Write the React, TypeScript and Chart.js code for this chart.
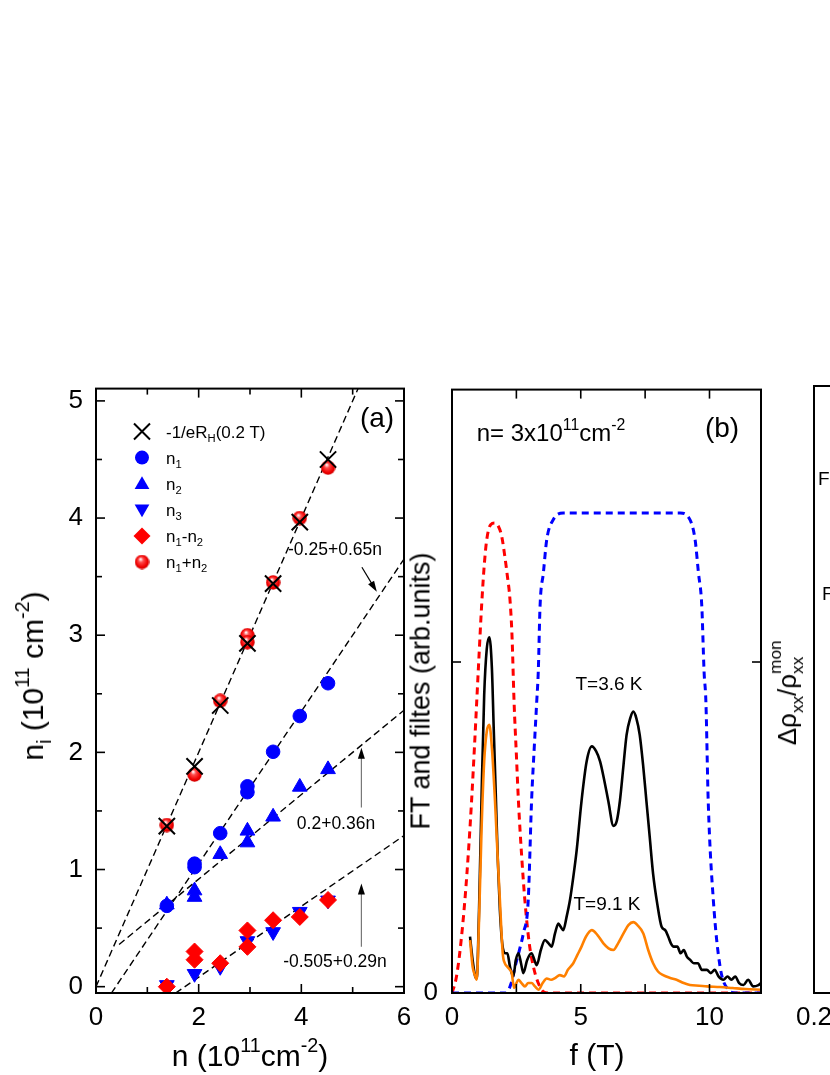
import React, { useEffect, useRef } from 'react';
import { Chart, registerables } from 'chart.js';
Chart.register(...registerables);

const FONT = '"Liberation Sans", Arial, Helvetica, sans-serif';

// ---------- Panel (a) data ----------
const aXTicks = [0, 2, 4, 6];
const aXMinor = [1, 3, 5];
const aYTicks = [0, 1, 2, 3, 4, 5];
const aYMinor = [0.5, 1.5, 2.5, 3.5, 4.5];

const hallX = [1.38, 1.92, 2.42, 2.95, 3.45, 3.97, 4.52];
const hallY = [1.37, 1.88, 2.40, 2.93, 3.44, 3.965, 4.50];
const sumX = [1.38, 1.92, 2.42, 2.95, 2.95, 3.45, 3.97, 4.52];
const sumY = [1.38, 1.81, 2.44, 3.00, 2.94, 3.45, 4.00, 4.43];
const n1X = [1.38, 1.92, 1.92, 2.42, 2.95, 2.95, 3.45, 3.97, 4.52];
const n1Y = [0.69, 1.05, 1.02, 1.31, 1.71, 1.66, 2.005, 2.31, 2.59];
const n2X = [1.38, 1.92, 1.92, 2.42, 2.95, 2.95, 3.45, 3.97, 4.52];
const n2Y = [0.70, 0.82, 0.765, 1.13, 1.33, 1.23, 1.45, 1.705, 1.855];
const n3X = [1.38, 1.92, 2.42, 2.95, 3.45, 3.97, 4.52];
const n3Y = [0.015, 0.11, 0.17, 0.39, 0.467, 0.64, 0.737];
const diffX = [1.38, 1.92, 1.92, 2.42, 2.95, 2.95, 3.45, 3.97, 4.52];
const diffY = [0.0, 0.30, 0.23, 0.20, 0.48, 0.34, 0.567, 0.595, 0.74];

const fit1X = [0, 5.2];
const fit1Y = [0, 5.2];
const fit2X = [0.3, 6];
const fit2Y = [-0.055, 3.65];
const fit3X = [0.45, 6];
const fit3Y = [0.36, 2.36];
const fit4X = [1.55, 6];
const fit4Y = [-0.055, 1.29];

type Seg = [string, string];
const legendLabels: Seg[][] = [
  [['-1/eR', ''], ['H', 'sub'], ['(0.2 T)', '']],
  [['n', ''], ['1', 'sub']],
  [['n', ''], ['2', 'sub']],
  [['n', ''], ['3', 'sub']],
  [['n', ''], ['1', 'sub'], ['-n', ''], ['2', 'sub']],
  [['n', ''], ['1', 'sub'], ['+n', ''], ['2', 'sub']],
];
const fitLabels = ['-0.25+0.65n', '0.2+0.36n', '-0.505+0.29n'];
// arrows in data units: [x0, y0, x1, y1]
const arrowsA = [
  [5.18, 3.58, 5.47, 3.37],
  [5.17, 1.53, 5.17, 2.04],
  [5.17, 0.34, 5.17, 0.88],
];

// ---------- Panel (b) data ----------
const bXTicks = [0, 5, 10];
const bXMinor = [2.5, 5, 7.5, 10];
const bYTicks = [0];
const bYMarks = [1];

const blackF = [0.70, 0.80, 0.90, 0.96, 1.05, 1.15, 1.25, 1.35, 1.45, 1.55, 1.62, 1.70, 1.78, 1.86, 1.95, 2.06, 2.15, 2.25, 2.38, 2.48, 2.58, 2.68, 2.77, 2.92, 3.09, 3.20, 3.29, 3.45, 3.61, 3.75, 3.87, 4.00, 4.13, 4.22, 4.32, 4.45, 4.58, 4.71, 4.84, 5.03, 5.23, 5.43, 5.60, 5.75, 5.92, 6.07, 6.27, 6.40, 6.52, 6.65, 6.78, 6.92, 7.04, 7.16, 7.29, 7.42, 7.55, 7.68, 7.81, 7.97, 8.14, 8.28, 8.40, 8.50, 8.61, 8.75, 8.88, 9.00, 9.12, 9.25, 9.39, 9.55, 9.70, 9.90, 10.05, 10.20, 10.35, 10.54, 10.70, 10.85, 11.00, 11.15, 11.32, 11.50, 11.70, 11.90, 12.0];
const blackV = [0.17, 0.10, 0.05, 0.044, 0.25, 0.60, 0.90, 1.04, 1.075, 0.98, 0.80, 0.60, 0.40, 0.25, 0.15, 0.12, 0.12, 0.08, 0.05, 0.10, 0.12, 0.09, 0.06, 0.10, 0.12, 0.10, 0.084, 0.13, 0.16, 0.15, 0.14, 0.18, 0.21, 0.20, 0.19, 0.23, 0.28, 0.35, 0.43, 0.58, 0.70, 0.745, 0.73, 0.70, 0.64, 0.58, 0.505, 0.52, 0.58, 0.68, 0.78, 0.83, 0.85, 0.83, 0.78, 0.69, 0.58, 0.47, 0.36, 0.27, 0.20, 0.19, 0.17, 0.15, 0.14, 0.14, 0.12, 0.13, 0.11, 0.10, 0.09, 0.09, 0.07, 0.07, 0.06, 0.07, 0.05, 0.04, 0.05, 0.04, 0.05, 0.03, 0.024, 0.04, 0.02, 0.024, 0.03];

const orangeF = [0.70, 0.80, 0.89, 0.96, 1.05, 1.15, 1.25, 1.35, 1.45, 1.55, 1.67, 1.78, 1.86, 1.97, 2.05, 2.14, 2.25, 2.32, 2.41, 2.50, 2.58, 2.70, 2.83, 2.96, 3.09, 3.22, 3.36, 3.52, 3.68, 3.85, 4.00, 4.19, 4.35, 4.50, 4.71, 4.87, 5.03, 5.20, 5.43, 5.65, 5.88, 6.08, 6.27, 6.45, 6.66, 6.85, 7.04, 7.20, 7.43, 7.62, 7.81, 8.00, 8.20, 8.45, 8.72, 9.00, 9.24, 9.60, 9.90, 10.40, 10.90, 11.40, 12.0];
const orangeV = [0.16, 0.08, 0.054, 0.04, 0.22, 0.50, 0.70, 0.79, 0.81, 0.74, 0.58, 0.40, 0.28, 0.12, 0.09, 0.08, 0.07, 0.06, 0.015, 0.03, 0.04, 0.03, 0.02, 0.03, 0.03, 0.02, 0.01, 0.03, 0.044, 0.04, 0.045, 0.054, 0.05, 0.07, 0.09, 0.115, 0.14, 0.17, 0.19, 0.175, 0.15, 0.135, 0.13, 0.15, 0.18, 0.205, 0.214, 0.205, 0.18, 0.13, 0.09, 0.065, 0.054, 0.046, 0.04, 0.03, 0.024, 0.022, 0.02, 0.018, 0.015, 0.012, 0.01];

const redF = [0, 0.15, 0.30, 0.50, 0.65, 0.76, 0.87, 0.96, 1.05, 1.15, 1.25, 1.35, 1.50, 1.67, 1.80, 1.93, 2.05, 2.15, 2.25, 2.33, 2.41, 2.50, 2.58, 2.70, 2.83, 3.00, 3.16, 3.35, 3.55, 3.80, 12.0];
const redV = [0, 0.04, 0.12, 0.28, 0.44, 0.58, 0.74, 0.88, 1.02, 1.17, 1.29, 1.37, 1.415, 1.42, 1.41, 1.38, 1.32, 1.26, 1.19, 1.08, 0.88, 0.72, 0.58, 0.42, 0.28, 0.15, 0.08, 0.03, 0.004, 0, 0];

const blueF = [0, 2.10, 2.30, 2.45, 2.62, 2.77, 2.96, 3.09, 3.20, 3.29, 3.35, 3.42, 3.55, 3.68, 3.93, 4.32, 8.86, 9.24, 9.44, 9.57, 9.70, 9.79, 9.86, 9.95, 10.15, 10.41, 10.73, 11.0, 12.0];
const blueV = [0, 0, 0.03, 0.08, 0.13, 0.18, 0.28, 0.58, 0.75, 0.88, 0.97, 1.17, 1.27, 1.37, 1.43, 1.45, 1.45, 1.43, 1.37, 1.27, 1.17, 0.97, 0.88, 0.58, 0.28, 0.08, 0.01, 0, 0];

const bTexts = ['T=3.6 K', 'T=9.1 K'];

// ---------- Panel (c) ----------
const cXTicks = [0.2];

const pts = (xs: number[], ys: number[]) => xs.map((x, i) => ({ x, y: ys[i] }));

function makeSphere(d: number) {
  const c = document.createElement('canvas');
  c.width = d;
  c.height = d;
  const g = c.getContext('2d')!;
  const r = d / 2;
  const grad = g.createRadialGradient(r * 0.8, r * 0.6, r * 0.05, r, r, r);
  grad.addColorStop(0, '#ffffff');
  grad.addColorStop(0.3, '#ff4a4a');
  grad.addColorStop(0.75, '#f00000');
  grad.addColorStop(1, '#c80000');
  g.fillStyle = grad;
  g.beginPath();
  g.arc(r, r, r - 0.3, 0, Math.PI * 2);
  g.fill();
  return c;
}

type FrameCfg = {
  xMajor: number[]; xMinor: number[]; yMajor: number[]; yMinor: number[];
  major: number; minor: number; extra?: (chart: any) => void;
};

function makeFrame(cfg: FrameCfg) {
  return {
    id: 'frame',
    afterDatasetsDraw(chart: any) {
      const { ctx, chartArea: a, scales } = chart;
      ctx.save();
      ctx.strokeStyle = '#000';
      ctx.lineWidth = 1.6;
      const seg = (x0: number, y0: number, x1: number, y1: number) => {
        ctx.beginPath(); ctx.moveTo(x0, y0); ctx.lineTo(x1, y1); ctx.stroke();
      };
      const xt = (vals: number[], len: number) => vals.forEach(v => {
        const p = scales.x.getPixelForValue(v);
        seg(p, a.bottom, p, a.bottom - len);
        seg(p, a.top, p, a.top + len);
      });
      const yt = (vals: number[], len: number) => vals.forEach(v => {
        const p = scales.y.getPixelForValue(v);
        seg(a.left, p, a.left + len, p);
        seg(a.right, p, a.right - len, p);
      });
      xt(cfg.xMajor, cfg.major); xt(cfg.xMinor, cfg.minor);
      yt(cfg.yMajor, cfg.major); yt(cfg.yMinor, cfg.minor);
      ctx.lineWidth = 2;
      ctx.strokeRect(a.left, a.top, a.right - a.left, a.bottom - a.top);
      ctx.restore();
      if (cfg.extra) cfg.extra(chart);
    },
  };
}

function tickFont() {
  return { family: FONT, size: 26 };
}

function buildA(sphere: HTMLCanvasElement) {
  const dash = (xs: number[], ys: number[]) => ({
    type: 'scatter' as const, data: pts(xs, ys), showLine: true, borderColor: '#000',
    borderWidth: 1.4, borderDash: [7, 4], pointRadius: 0, fill: false,
  });
  const extra = (chart: any) => {
    const { ctx, chartArea: a, scales } = chart;
    ctx.save();
    // legend markers
    const lx = 142;
    const ly = [71.5, 97.6, 123.7, 149.8, 175.9, 202];
    ctx.strokeStyle = '#000'; ctx.lineWidth = 2;
    ctx.beginPath();
    ctx.moveTo(lx - 8, ly[0] - 8); ctx.lineTo(lx + 8, ly[0] + 8);
    ctx.moveTo(lx + 8, ly[0] - 8); ctx.lineTo(lx - 8, ly[0] + 8);
    ctx.stroke();
    ctx.fillStyle = '#0000ff';
    ctx.beginPath(); ctx.arc(lx, ly[1], 7, 0, Math.PI * 2); ctx.fill();
    const tri = (y: number, up: boolean) => {
      const r = 8.5, s = up ? 1 : -1;
      ctx.beginPath();
      ctx.moveTo(lx, y - s * r);
      ctx.lineTo(lx + r * 0.866, y + s * r * 0.5);
      ctx.lineTo(lx - r * 0.866, y + s * r * 0.5);
      ctx.closePath(); ctx.fill();
    };
    tri(ly[2] + 1, true);
    tri(ly[3] - 1, false);
    ctx.fillStyle = '#ff0000';
    ctx.beginPath();
    ctx.moveTo(lx, ly[4] - 8.5); ctx.lineTo(lx + 8.5, ly[4]); ctx.lineTo(lx, ly[4] + 8.5); ctx.lineTo(lx - 8.5, ly[4]);
    ctx.closePath(); ctx.fill();
    ctx.drawImage(sphere, lx - sphere.width / 2, ly[5] - sphere.height / 2);
    // arrows
    arrowsA.forEach((ar, i) => {
      const x0 = scales.x.getPixelForValue(ar[0]), y0 = scales.y.getPixelForValue(ar[1]);
      const x1 = scales.x.getPixelForValue(ar[2]), y1 = scales.y.getPixelForValue(ar[3]);
      const ang = Math.atan2(y1 - y0, x1 - x0);
      const hl = 11, hw = 3.5;
      ctx.strokeStyle = i === 0 ? '#000' : '#777';
      ctx.lineWidth = 1.2;
      ctx.beginPath(); ctx.moveTo(x0, y0);
      ctx.lineTo(x1 - Math.cos(ang) * hl * 0.8, y1 - Math.sin(ang) * hl * 0.8); ctx.stroke();
      ctx.fillStyle = '#000';
      ctx.beginPath();
      ctx.moveTo(x1, y1);
      ctx.lineTo(x1 - Math.cos(ang) * hl - Math.sin(ang) * hw, y1 - Math.sin(ang) * hl + Math.cos(ang) * hw);
      ctx.lineTo(x1 - Math.cos(ang) * hl + Math.sin(ang) * hw, y1 - Math.sin(ang) * hl - Math.cos(ang) * hw);
      ctx.closePath(); ctx.fill();
    });
    ctx.restore();
    void a;
  };
  return {
    type: 'scatter',
    data: {
      datasets: [
        { data: pts(hallX, hallY), pointStyle: 'crossRot', pointRadius: 11.5, borderColor: '#000', borderWidth: 2, backgroundColor: '#000' },
        { data: pts(sumX, sumY), pointStyle: sphere, pointRadius: 7.5 },
        { data: pts(n1X, n1Y), pointStyle: 'circle', pointRadius: 6.8, backgroundColor: '#0000ff', borderColor: '#0000ff', borderWidth: 1 },
        { data: pts(diffX, diffY), pointStyle: 'rectRot', pointRadius: 8.5, backgroundColor: '#ff0000', borderColor: '#ff0000', borderWidth: 1 },
        { data: pts(n2X, n2Y), pointStyle: 'triangle', pointRadius: 8.5, backgroundColor: '#0000ff', borderColor: '#0000ff', borderWidth: 1 },
        { data: pts(n3X, n3Y), pointStyle: 'triangle', rotation: 180, pointRadius: 8.5, backgroundColor: '#0000ff', borderColor: '#0000ff', borderWidth: 1 },
        dash(fit1X, fit1Y), dash(fit2X, fit2Y), dash(fit3X, fit3Y), dash(fit4X, fit4Y),
      ],
    },
    options: {
      responsive: false, animation: false, devicePixelRatio: 1,
      layout: { padding: { left: 0, top: 26, right: 36, bottom: 0 } },
      plugins: { legend: { display: false }, tooltip: { enabled: false } },
      scales: {
        x: {
          type: 'linear', min: 0, max: 6,
          afterBuildTicks: (s: any) => { s.ticks = aXTicks.map(v => ({ value: v })); },
          afterFit: (s: any) => { s.height = 82; },
          ticks: { font: tickFont(), color: '#000', padding: 9, maxRotation: 0 },
          grid: { display: false, drawTicks: false }, border: { display: false },
        },
        y: {
          type: 'linear', min: -0.054, max: 5.105,
          afterBuildTicks: (s: any) => { s.ticks = aYTicks.map(v => ({ value: v })); },
          afterFit: (s: any) => { s.width = 96; },
          ticks: { font: tickFont(), color: '#000', padding: 13 },
          grid: { display: false, drawTicks: false }, border: { display: false },
        },
      },
    },
    plugins: [makeFrame({ xMajor: aXTicks, xMinor: aXMinor, yMajor: aYTicks, yMinor: aYMinor, major: 9, minor: 6, extra })],
  };
}

function buildB() {
  const line = (xs: number[], ys: number[], color: string, dashed: boolean) => ({
    type: 'line' as const, data: pts(xs, ys), showLine: true, borderColor: color,
    borderWidth: dashed ? 3 : 2.6, borderDash: dashed ? [7, 5] : [], pointRadius: 0, fill: false,
    cubicInterpolationMode: 'monotone' as const,
  });
  return {
    type: 'scatter',
    data: {
      datasets: [
        line(orangeF, orangeV, '#ff8000', false),
        line(blackF, blackV, '#000000', false),
        line(blueF, blueV, '#0000ff', true),
        line(redF, redV, '#ff0000', true),
      ],
    },
    options: {
      responsive: false, animation: false, devicePixelRatio: 1,
      layout: { padding: { left: 0, top: 26, right: 9, bottom: 0 } },
      plugins: { legend: { display: false }, tooltip: { enabled: false } },
      scales: {
        x: {
          type: 'linear', min: 0, max: 12,
          afterBuildTicks: (s: any) => { s.ticks = bXTicks.map(v => ({ value: v })); },
          afterFit: (s: any) => { s.height = 82; },
          ticks: { font: tickFont(), color: '#000', padding: 9, maxRotation: 0 },
          grid: { display: false, drawTicks: false }, border: { display: false },
        },
        y: {
          type: 'linear', min: 0, max: 1.823,
          afterBuildTicks: (s: any) => { s.ticks = bYTicks.map(v => ({ value: v })); },
          afterFit: (s: any) => { s.width = 52; },
          ticks: { font: tickFont(), color: '#000', padding: 14 },
          grid: { display: false, drawTicks: false }, border: { display: false },
        },
      },
    },
    plugins: [makeFrame({ xMajor: bXMinor, xMinor: [], yMajor: bYMarks, yMinor: [], major: 9, minor: 6 })],
  };
}

function buildC() {
  return {
    type: 'scatter',
    data: { datasets: [] },
    options: {
      responsive: false, animation: false, devicePixelRatio: 1,
      layout: { padding: { left: 44, top: 26, right: 40, bottom: 0 } },
      plugins: { legend: { display: false }, tooltip: { enabled: false } },
      scales: {
        x: {
          type: 'linear', min: 0.2, max: 1.0,
          afterBuildTicks: (s: any) => { s.ticks = cXTicks.map(v => ({ value: v })); },
          afterFit: (s: any) => { s.height = 82; },
          ticks: { font: tickFont(), color: '#000', padding: 9, maxRotation: 0 },
          grid: { display: false, drawTicks: false }, border: { display: false },
        },
        y: { type: 'linear', min: 0, max: 1, display: false },
      },
    },
    plugins: [makeFrame({ xMajor: [], xMinor: [], yMajor: [], yMinor: [], major: 9, minor: 6 })],
  };
}

function ChartBox({ left, top, width, height, build }: { left: number; top: number; width: number; height: number; build: () => any }) {
  const ref = useRef<HTMLCanvasElement>(null);
  useEffect(() => {
    const chart = new Chart(ref.current as HTMLCanvasElement, build());
    return () => chart.destroy();
  }, []);
  return <canvas ref={ref} width={width} height={height} style={{ position: 'absolute', left, top, width, height }} />;
}

function Rich({ segs }: { segs: Seg[] }) {
  return (
    <>
      {segs.map(([t, k], i) => {
        if (k === 'sub') return <span key={i} style={{ fontSize: '0.66em', position: 'relative', top: '0.38em' }}>{t}</span>;
        if (k === 'sup') return <span key={i} style={{ fontSize: '0.66em', position: 'relative', top: '-0.72em' }}>{t}</span>;
        if (k === 'both') {
          const [lo, hi] = t.split('|');
          return (
            <span key={i} style={{ fontSize: '0.66em', position: 'relative', display: 'inline-block' }}>
              <span style={{ position: 'relative', top: '0.38em' }}>{lo}</span>
              <span style={{ position: 'absolute', left: 0, top: '-0.85em' }}>{hi}</span>
            </span>
          );
        }
        return <span key={i}>{t}</span>;
      })}
    </>
  );
}

function Label({ x, y, size, segs, rotate = false, anchor = 'center' }: { x: number; y: number; size: number; segs: Seg[]; rotate?: boolean; anchor?: string }) {
  const tr = anchor === 'left' ? 'translate(0,-50%)' : 'translate(-50%,-50%)';
  return (
    <div style={{ position: 'absolute', left: x, top: y, fontSize: size, fontFamily: FONT, whiteSpace: 'nowrap', lineHeight: 1, color: '#000', transform: tr + (rotate ? ' rotate(-90deg)' : '') }}>
      <Rich segs={segs} />
    </div>
  );
}

export default function App() {
  const sphereRef = useRef<HTMLCanvasElement | null>(null);
  const getSphere = () => {
    if (!sphereRef.current) sphereRef.current = makeSphere(15);
    return sphereRef.current;
  };
  const legendY = [71.5, 97.6, 123.7, 149.8, 175.9, 202].map(v => v + 360);
  return (
    <div style={{ position: 'absolute', left: 0, top: 0, width: 830, height: 1075, overflow: 'hidden', background: '#fff' }}>
      <ChartBox left={0} top={360} width={440} height={715} build={() => buildA(getSphere())} />
      <ChartBox left={400} top={360} width={370} height={715} build={buildB} />
      <ChartBox left={770} top={360} width={300} height={715} build={buildC} />

      {/* Panel (a) texts */}
      <Label x={33} y={676} size={30} rotate segs={[['n', ''], ['i', 'sub'], [' (10', ''], ['11', 'sup'], [' cm', ''], ['-2', 'sup'], [')', '']]} />
      <Label x={250} y={1056} size={30} segs={[['n (10', ''], ['11', 'sup'], ['cm', ''], ['-2', 'sup'], [')', '']]} />
      <Label x={377} y={418} size={28} segs={[['(a)', '']]} />
      {legendLabels.map((s, i) => <Label key={i} x={166} y={legendY[i]} size={17} anchor="left" segs={s} />)}
      <Label x={335} y={550} size={17.5} segs={[[fitLabels[0], '']]} />
      <Label x={336} y={824} size={17.5} segs={[[fitLabels[1], '']]} />
      <Label x={335} y={962} size={17.5} segs={[[fitLabels[2], '']]} />

      {/* Panel (b) texts */}
      <Label x={421} y={691} size={27} rotate segs={[['FT and filtes (arb.units)', '']]} />
      <Label x={597} y={1055} size={30} segs={[['f (T)', '']]} />
      <Label x={551} y={433} size={24} segs={[['n= 3x10', ''], ['11', 'sup'], ['cm', ''], ['-2', 'sup']]} />
      <Label x={722} y={428} size={28} segs={[['(b)', '']]} />
      <Label x={609} y={683} size={19} segs={[[bTexts[0], '']]} />
      <Label x={607} y={903} size={19} segs={[[bTexts[1], '']]} />

      {/* Panel (c) texts */}
      <Label x={787} y={701} size={26} rotate segs={[['\u0394\u03c1', ''], ['xx', 'sub'], ['/\u03c1', ''], ['xx|mon', 'both']]} />
      <Label x={818} y={478} size={19} anchor="left" segs={[['F', '']]} />
      <Label x={822} y={593} size={19} anchor="left" segs={[['F', '']]} />
    </div>
  );
}
